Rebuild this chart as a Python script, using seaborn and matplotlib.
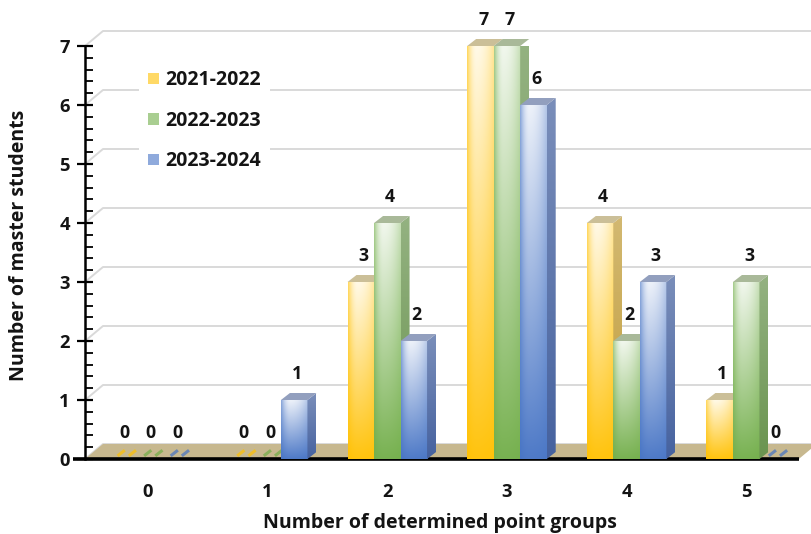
import numpy as np
import pandas as pd
import matplotlib
matplotlib.use("Agg")
import matplotlib.pyplot as plt
import matplotlib.colors as mcolors
from matplotlib.patches import Polygon, Patch
from matplotlib.ticker import MultipleLocator
import seaborn as sns

# ---- data -------------------------------------------------------------
groups = [0, 1, 2, 3, 4, 5]
years = ["2021-2022", "2022-2023", "2023-2024"]
students_2021_2022 = [0, 0, 3, 7, 4, 1]
students_2022_2023 = [0, 0, 4, 7, 2, 3]
students_2023_2024 = [0, 1, 2, 6, 3, 0]

df = pd.DataFrame({
    "groups": groups * 3,
    "count": students_2021_2022 + students_2022_2023 + students_2023_2024,
    "year": np.repeat(years, len(groups)),
})

# ---- style ------------------------------------------------------------
sns.set_theme(style="white")
plt.rcParams["font.family"] = ["Open Sans", "DejaVu Sans"]
plt.rcParams["font.weight"] = "bold"
FS = 13.2
FS_TITLE = 14
FS_LEG = 14
FS_VAL = 12.8
TXT = "#141414"

front_cols = ["#FFC000", "#70AD47", "#4472C4"]
side_cols = ["#C19D3A", "#6A9450", "#46629F"]
top_cols = ["#CBBF98", "#A9B999", "#929FBE"]
floor_col = "#C7B88F"
grid_col = "#D9D9D9"

fig = plt.figure(figsize=(8.12, 5.34), dpi=100)
ax = fig.add_axes([85 / 812, 75 / 534, 721 / 812, 413 / 534])

sns.barplot(data=df, x="groups", y="count", hue="year", palette=front_cols,
            width=0.665, saturation=1, errorbar=None, legend=False, ax=ax)

XLIM = (-0.527, 5.5)
YLIM = (0, 7)
ax.set_xlim(*XLIM)
ax.set_ylim(*YLIM)

# pixel -> data conversion for the pseudo-3D depth offsets
p0 = ax.transData.transform((0, 0))
p1 = ax.transData.transform((1, 1))
ppu_x, ppu_y = (p1 - p0)


def depth(px_x, px_y):
    return px_x / ppu_x, px_y / ppu_y


bdx, bdy = depth(9, 7)      # bar depth
gdx, gdy = depth(18, 15)    # wall / floor depth

# ---- back wall gridlines and floor ------------------------------------
xl = XLIM[0]
for v in range(0, 8):
    ax.plot([xl, xl + gdx, XLIM[1] + 0.2], [v, v + gdy, v + gdy],
            color=grid_col, lw=1.4, zorder=0.5, clip_on=False,
            solid_capstyle="butt")

floor_r = XLIM[1] - 0.06
ax.add_patch(Polygon([(xl, 0), (floor_r, 0), (floor_r + gdx, gdy),
                      (xl + gdx, gdy)], closed=True, facecolor=floor_col,
                     edgecolor="none", zorder=1, clip_on=False))
tick_dx, _ = depth(12, 0)
ax.plot([xl - tick_dx, floor_r], [0, 0], color="black", lw=2.6,
        zorder=2.5, clip_on=False, solid_capstyle="butt")


# ---- bar faces --------------------------------------------------------
def front_image(base, n=80):
    u = np.linspace(0, 1, n)[None, :]
    v = np.linspace(1, 0, n)[:, None]
    hp = np.where(u < 0.35, 1 - 0.6 * ((0.35 - u) / 0.35) ** 2,
                  1 - 0.35 * ((u - 0.35) / 0.65) ** 2)
    w = hp * (0.06 + 0.84 * v)
    rgb = np.array(mcolors.to_rgb(base))
    return rgb * (1 - w[..., None]) + w[..., None]


def side_image(base, n=60):
    v = np.linspace(1, 0, n)[:, None] * np.ones((1, 4))
    w = 0.28 * v
    rgb = np.array(mcolors.to_rgb(base))
    return rgb * (1 - w[..., None]) + w[..., None]


for si, (cont, values) in enumerate(zip(ax.containers,
                                        [students_2021_2022,
                                         students_2022_2023,
                                         students_2023_2024])):
    for bar, val in zip(cont, values):
        x, w, h = bar.get_x(), bar.get_width(), bar.get_height()
        bar.set_visible(False)
        z = 3 + si * 0.1
        if h > 0:
            im = ax.imshow(front_image(front_cols[si]), extent=(x, x + w, 0, h),
                           aspect="auto", interpolation="bilinear", zorder=z)
            im.set_clip_on(False)
            side = Polygon([(x + w, 0), (x + w, h), (x + w + bdx, h + bdy),
                            (x + w + bdx, bdy)], closed=True,
                           facecolor="none", edgecolor="none", clip_on=False)
            ax.add_patch(side)
            sim = ax.imshow(side_image(side_cols[si]),
                            extent=(x + w, x + w + bdx, 0, h + bdy),
                            aspect="auto", interpolation="bilinear",
                            zorder=z + 0.02)
            sim.set_clip_path(side)
            ax.add_patch(Polygon([(x, h), (x + w, h), (x + w + bdx, h + bdy),
                                  (x + bdx, h + bdy)], closed=True,
                                 facecolor=top_cols[si], edgecolor="none",
                                 zorder=z + 0.03, clip_on=False))
        else:
            # flat (zero) bars show as short strokes on the floor
            for fu in (0.2, 0.62):
                x0 = x + fu * w
                ax.plot([x0 + 0.45 * bdx, x0 + 1.25 * bdx],
                        [0.45 * bdy, 1.25 * bdy], color=front_cols[si],
                        lw=2.2, alpha=0.7, zorder=2, clip_on=False,
                        solid_capstyle="butt")
        ax.annotate(f"{val:g}", xy=(x + w / 2, h), xytext=(2, 15),
                    textcoords="offset points", ha="center", va="baseline",
                    fontsize=FS_VAL, fontweight="bold", color=TXT,
                    annotation_clip=False, zorder=6)

ax.set_xlim(*XLIM)
ax.set_ylim(*YLIM)

# ---- axes -------------------------------------------------------------
for s in ("top", "right", "bottom"):
    ax.spines[s].set_visible(False)
ax.spines["left"].set_color("black")
ax.spines["left"].set_linewidth(1.8)
ax.spines["left"].set_zorder(2.6)

ax.set_yticks(range(0, 8))
ax.yaxis.set_minor_locator(MultipleLocator(0.2))
ax.tick_params(axis="y", which="major", left=True, direction="inout",
               length=12, width=1.6, color="black", pad=5,
               labelsize=FS, labelcolor=TXT)
ax.tick_params(axis="y", which="minor", left=True, direction="in",
               length=6, width=1.3, color="black")
ax.tick_params(axis="x", length=0, pad=17, labelsize=FS, labelcolor=TXT)

ax.set_ylabel("Number of master students", fontsize=FS_TITLE,
              fontweight="bold", color=TXT)
ax.set_xlabel("Number of determined point groups", fontsize=FS_TITLE,
              fontweight="bold", color=TXT)
ax.yaxis.set_label_coords(-0.077, 0.518)
ax.xaxis.set_label_coords(0.492, -0.130)

# ---- legend -----------------------------------------------------------
handles = [Patch(facecolor=mcolors.to_hex(0.6 * np.array(mcolors.to_rgb(c)) + 0.4),
                 edgecolor="none") for c in front_cols]
leg = ax.legend(handles, years, loc="upper left",
                bbox_to_anchor=(129 / 812, 1 - 51 / 534),
                bbox_transform=fig.transFigure, frameon=True,
                facecolor="white", edgecolor="none", framealpha=1,
                fancybox=False, borderpad=0.5, handlelength=0.55,
                handleheight=0.55, handletextpad=0.3, labelspacing=1.05,
                prop={"size": FS_LEG, "weight": "bold"})
leg.set_zorder(7)
for t in leg.get_texts():
    t.set_color(TXT)

fig.savefig("out.png", dpi=100)
